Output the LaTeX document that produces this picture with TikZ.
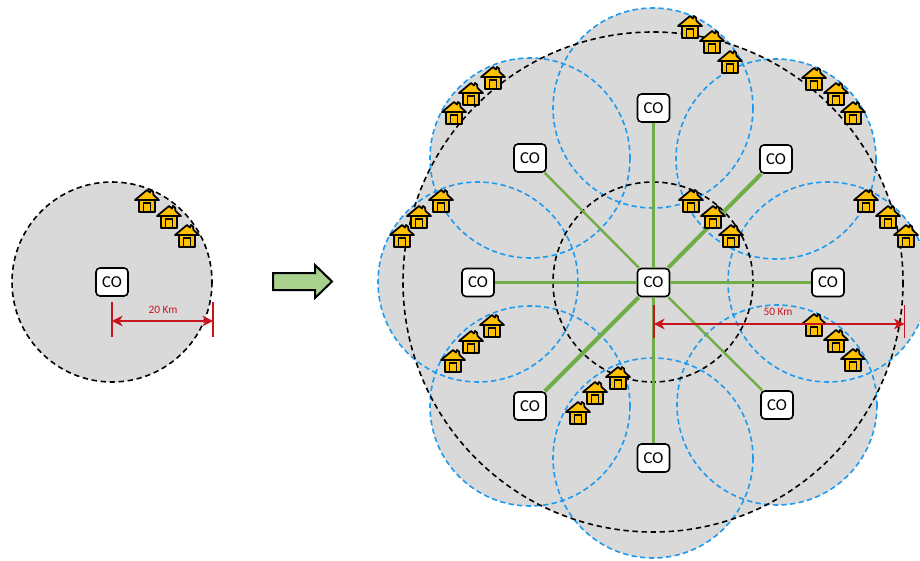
\documentclass[tikz,border=0pt]{standalone}
\usepackage{fontspec}
\setmainfont{Carlito}
\usetikzlibrary{arrows.meta}

\definecolor{areagray}{HTML}{D9D9D9}
\definecolor{cellblue}{HTML}{1E9BEF}
\definecolor{linkgreen}{HTML}{70AD47}
\definecolor{arrowgreen}{HTML}{A9D18E}
\definecolor{homeyellow}{HTML}{FFC000}
\definecolor{spanred}{HTML}{C8141E}

\tikzset{
	cobox/.style = {draw, fill=white, line width=1.2pt, rounded corners=3pt, minimum width=24pt, minimum height=21pt, inner sep=0pt, font=\fontsize{12.5}{12.5}\selectfont},
	cell/.style = {draw=cellblue, line width=1.2pt, dash pattern=on 4pt off 2.5pt},
	ring/.style = {draw=black, line width=1.2pt, dash pattern=on 4pt off 2.8pt},
	span/.style = {spanred, line width=0.8pt, {Stealth[length=8pt,width=8pt,inset=2.5pt]}-{Stealth[length=8pt,width=8pt,inset=2.5pt]}},
	tick/.style = {spanred, line width=1pt},
	spanlabel/.style = {spanred, inner sep=0pt, font=\fontsize{8.5}{8.5}\selectfont},
	pics/home/.style = {code = {
		\draw[fill=homeyellow, line width=1.3pt, line join=round] (-8,-1) rectangle (8,11);
		\draw[fill=homeyellow, line width=1.3pt, line join=round] (-12,-1) -- (0,-11) -- (3,-8.5) -- (4,-11) -- (6,-9.5) -- (6.5,-6) -- (12,-1) -- cycle;
		\draw[fill=homeyellow, line width=1.3pt] (-3.5,2) rectangle (3.5,11);
	}}
}

\begin{document}
\begin{tikzpicture}[x=0.75pt, y=-0.75pt]
	\useasboundingbox (0,0) rectangle (920,560);

	% left area
	\fill[areagray] (112,282) circle (100);
	\draw[ring] (112,282) circle (100);

	% right area
	\fill[areagray] (653,282) circle (250);
	\foreach \x/\y in {653/108, 776/159, 828/282, 777/405, 653/458, 530/406, 478/282, 530/158} {
		\fill[areagray] (\x,\y) circle (100);
	}
	\foreach \x/\y in {653/108, 776/159, 828/282, 777/405, 653/458, 530/406, 478/282, 530/158} {
		\draw[cell] (\x,\y) circle (100);
	}
	\draw[ring] (653,282) circle (250);
	\draw[ring] (653,282) circle (100);

	% offices
	\node[cobox] (solo) at (112,282) {CO};
	\node[cobox] (hub) at (653.5,282.5) {CO};
	\foreach \name/\x/\y in {up/653.5/108, upright/776/159, right/828/282.5, downright/777/405, down/653.5/458, downleft/530/406, left/478/282.5, upleft/530/158} {
		\node[cobox] (\name) at (\x,\y) {CO};
	}

	% links
	\foreach \name/\w in {up/2.8pt, right/2.8pt, down/2.8pt, left/2.8pt, upright/3pt, downleft/3pt, upleft/1.8pt, downright/1.8pt} {
		\draw[linkgreen, line width=\w] (hub) -- (\name);
	}

	% homes
	\foreach \x/\y in {147/201, 169/217, 187/236,
		690/27, 712/42, 730/62,
		814/79, 836/94, 853/113,
		493/78, 471/94, 454/113,
		441/201, 419/217, 402/236,
		691/201, 713/217, 731/236,
		866/201, 888/217, 906/236,
		814/325, 836/341, 853/360,
		492/326, 471/342, 453/361,
		618/378, 595/393, 578/413} {
		\pic at (\x,\y) {home};
	}

	% spans
	\coordinate (a1) at (112,321);
	\coordinate (a2) at (213,321);
	\draw[tick] (112,302) -- (112,337);
	\draw[tick] (213,302) -- (213,337);
	\draw[span] (a1) -- (a2);
	\node[spanlabel] (lab20) at (163,310) {20 Km};

	\coordinate (b1) at (654,324);
	\coordinate (b2) at (904.5,324);
	\draw[tick, line width=1.8pt] (654,305) -- (654,338);
	\draw[tick] (904.5,305) -- (904.5,338);
	\draw[span] (b1) -- (b2);
	\node[spanlabel] (lab50) at (778,312) {50 Km};

	% block arrow
	\draw[fill=arrowgreen, line width=1.5pt, miter limit=10] (273,273) -- (315,273) -- (315,265) -- (332,281.5) -- (315,298) -- (315,290) -- (273,290) -- cycle;
\end{tikzpicture}
\end{document}
